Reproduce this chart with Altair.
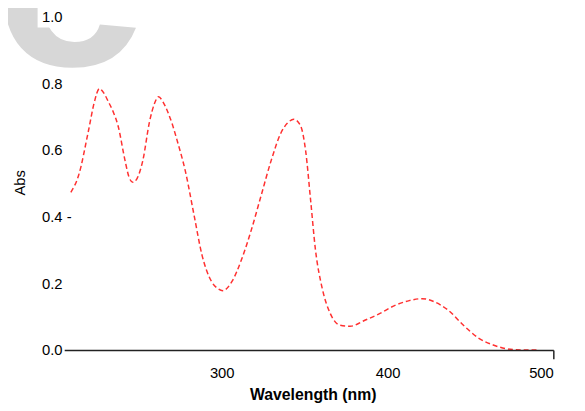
import altair as alt
import pandas as pd

wavelength = [209, 213.7, 219.6, 223, 226.2, 229, 231.5, 234.5, 237.5, 241.7, 244, 246.4, 249, 252.4, 256.5, 259.5, 261.9, 264.5, 267.3, 270, 273.2, 278, 283.3, 288, 294, 297.5, 300.6, 306, 312, 317.9, 323.8, 329.8, 335.7, 339.5, 343.5, 347.6, 350.6, 353.6, 356.5, 360.7, 365.5, 371.4, 377.4, 386.3, 395.2, 404.2, 413.1, 420.8, 428, 436.9, 445.8, 454.8, 463.7, 472.6, 481, 490.5]
absorbance = [0.473, 0.524, 0.657, 0.74, 0.784, 0.77, 0.746, 0.715, 0.672, 0.568, 0.52, 0.503, 0.515, 0.568, 0.686, 0.74, 0.760, 0.745, 0.716, 0.68, 0.627, 0.538, 0.405, 0.287, 0.204, 0.185, 0.178, 0.204, 0.272, 0.361, 0.464, 0.568, 0.651, 0.68, 0.692, 0.672, 0.598, 0.450, 0.302, 0.183, 0.109, 0.074, 0.071, 0.089, 0.109, 0.133, 0.148, 0.154, 0.145, 0.118, 0.074, 0.036, 0.015, 0.003, 0.0, 0.0]

x_ticks = [300, 400, 500]
y_ticks = [0.0, 0.2, 0.4, 0.6, 0.8, 1.0]

df = pd.DataFrame({"wl": wavelength, "abs": absorbance})

font = "Liberation Sans"

line = alt.Chart(df).mark_line(
    color="#ff3030", strokeWidth=1.5, strokeDash=[5, 3], interpolate="monotone"
).encode(
    x=alt.X("wl:Q", scale=alt.Scale(domain=[205, 500], nice=False, zero=False),
            axis=alt.Axis(values=x_ticks, title="Wavelength (nm)", grid=False,
                          domainColor="#222222", domainWidth=1.5, tickColor="#222222",
                          tickSize=9, tickWidth=1.5, zindex=1,
                          tickOpacity={"condition": {"test": "datum.value == 500", "value": 1}, "value": 0},
                          labelFont=font, labelFontSize=15, labelColor="black", labelPadding=7,
                          titleFont=font, titleFontSize=16, titleFontWeight="bold",
                          titleColor="black", titleX=252, titleY=45, titleBaseline="middle")),
    y=alt.Y("abs:Q", scale=alt.Scale(domain=[0, 1], nice=False),
            axis=alt.Axis(values=y_ticks, title="Abs", grid=False, domain=False, ticks=False,
                          zindex=1,
                          labelExpr="datum.value == 0.4 ? '0.4 -' : format(datum.value, '.1f')",
                          labelAlign="left", labelPadding=23,
                          labelFont=font, labelFontSize=15, labelColor="black",
                          titleFont=font, titleFontSize=15, titleFontWeight="normal",
                          titleColor="black", titleX=-37, titleY=168))
)

mark = alt.Chart(pd.DataFrame({"t": ["e"]})).mark_text(
    font=font, fontSize=283, fontWeight="bold", color="#d7d7d7",
    align="center", baseline="alphabetic", clip=False
).encode(text="t:N", x=alt.value(6), y=alt.value(49))

label_bg = alt.Chart(pd.DataFrame({"k": [1]})).mark_rect(color="white").encode(
    x=alt.value(-27), x2=alt.value(-2), y=alt.value(-14), y2=alt.value(11)
)

chart = alt.layer(mark, label_bg, line).properties(
    width=496, height=338,
    autosize=alt.AutoSizeParams(type="none"),
    padding={"left": 57, "top": 6, "right": 24, "bottom": 51},
).configure_view(stroke=None)

chart.save("out.html", embed_options={"renderer": "svg", "actions": False})
